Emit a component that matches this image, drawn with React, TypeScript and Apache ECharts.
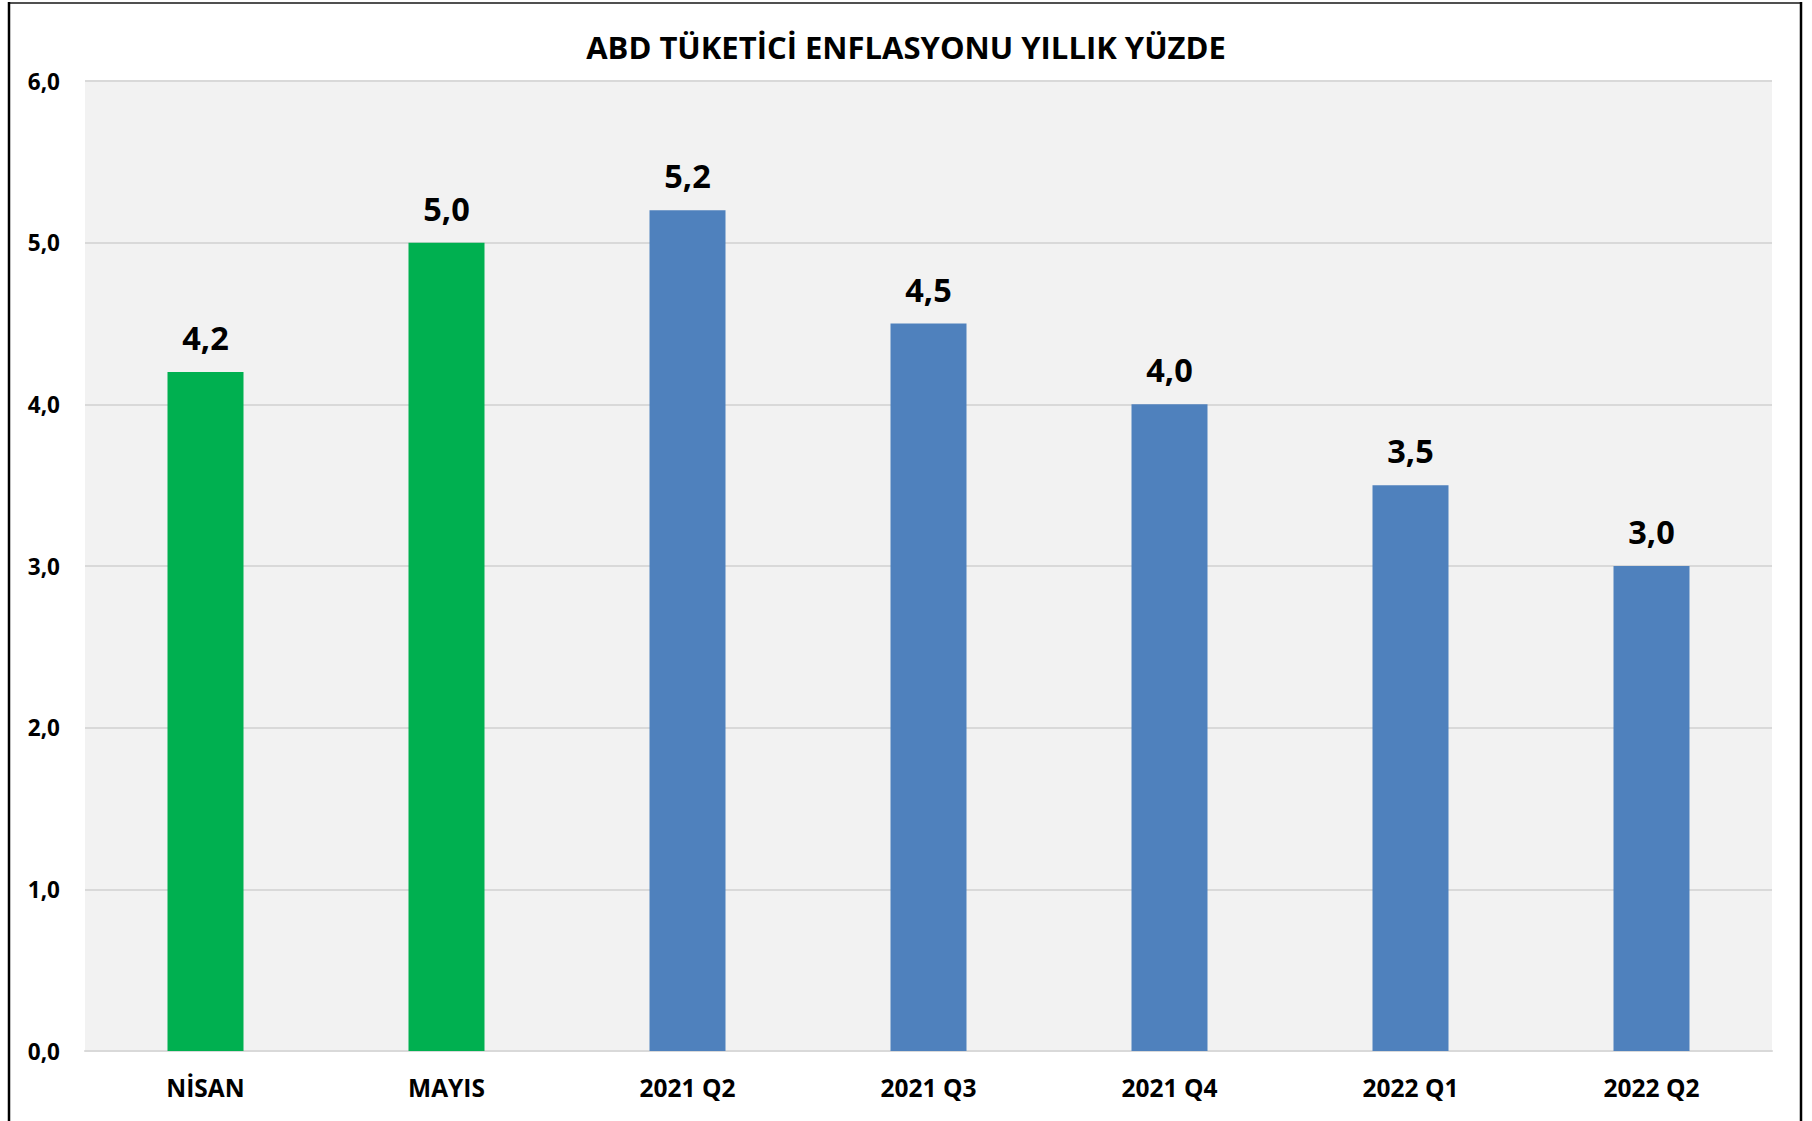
import React, { useEffect, useRef } from "react";
import * as echarts from "echarts";

const categories = ["NİSAN", "MAYIS", "2021 Q2", "2021 Q3", "2021 Q4", "2022 Q1", "2022 Q2"];
const values = [4.2, 5.0, 5.2, 4.5, 4.0, 3.5, 3.0];
const barColors = ["#00b050", "#00b050", "#4f81bd", "#4f81bd", "#4f81bd", "#4f81bd", "#4f81bd"];
const titleText = "ABD TÜKETİCİ ENFLASYONU YILLIK YÜZDE";

const fmt = (v: number) => v.toFixed(1).replace(".", ",");
const FONT = "'Open Sans', 'Noto Sans', sans-serif";

export default function App() {
  const ref = useRef<HTMLDivElement>(null);
  useEffect(() => {
    document.body.style.margin = "0";
    const chart = echarts.init(ref.current!, null, { renderer: "svg" });
    chart.setOption({
      animation: false,
      backgroundColor: "#ffffff",
      title: {
        text: titleText,
        left: "center",
        top: 31,
        padding: 0,
        textStyle: { fontFamily: FONT, fontWeight: "bold", fontSize: 31, color: "#000" },
      },
      grid: {
        left: 85,
        right: 40,
        top: 81,
        bottom: 70,
        show: true,
        backgroundColor: "#f2f2f2",
        borderWidth: 0,
      },
      xAxis: {
        type: "category",
        data: categories,
        axisLine: { show: true, lineStyle: { color: "#d9d9d9", width: 2 } },
        axisTick: { show: false },
        axisLabel: {
          margin: 24,
          fontFamily: FONT,
          fontWeight: "bold",
          fontSize: 24.5,
          color: "#000",
        },
      },
      yAxis: {
        type: "value",
        min: 0,
        max: 6,
        interval: 1,
        axisLine: { show: false },
        axisTick: { show: false },
        splitLine: { show: true, lineStyle: { color: "#d9d9d9", width: 2 } },
        axisLabel: {
          margin: 25,
          formatter: (v: number) => fmt(v),
          fontFamily: FONT,
          fontWeight: "bold",
          fontSize: 22.5,
          color: "#000",
        },
      },
      series: [
        {
          type: "bar",
          barWidth: 76,
          data: values.map((v, i) => ({ value: v, itemStyle: { color: barColors[i] } })),
          label: {
            show: true,
            position: "top",
            distance: 18,
            formatter: (p: any) => fmt(p.value),
            fontFamily: FONT,
            fontWeight: "bold",
            fontSize: 32.5,
            color: "#000",
          },
        },
      ],
      graphic: [
        { type: "line", shape: { x1: 8, y1: 3, x2: 1802, y2: 3 }, style: { stroke: "#505050", lineWidth: 2 } },
        { type: "line", shape: { x1: 9, y1: 2, x2: 9, y2: 1121 }, style: { stroke: "#000", lineWidth: 2.5 } },
        { type: "line", shape: { x1: 1801, y1: 2, x2: 1801, y2: 1121 }, style: { stroke: "#000", lineWidth: 2.5 } },
      ],
    });
    return () => chart.dispose();
  }, []);
  return <div ref={ref} style={{ width: 1812, height: 1121 }} />;
}
